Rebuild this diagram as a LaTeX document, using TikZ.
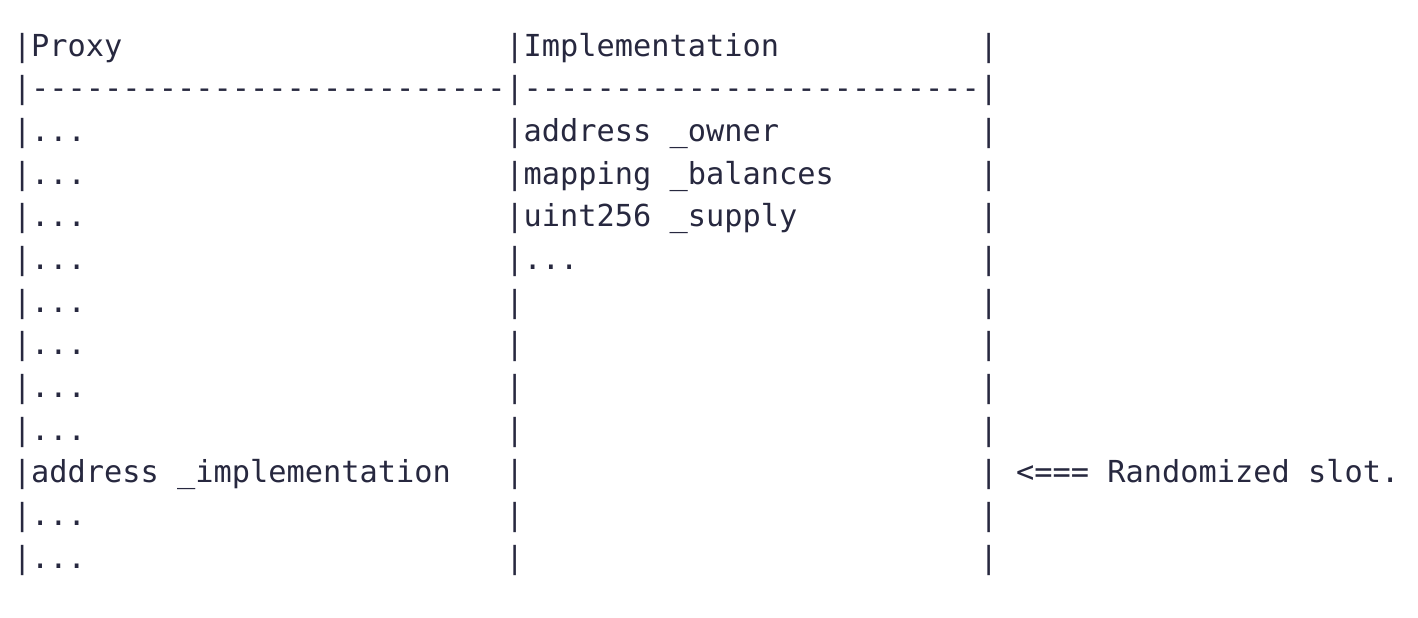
\documentclass[tikz,border=0pt]{standalone}
\usepackage{fontspec}
\setmonofont{DejaVu Sans Mono}
\usepackage{xcolor}
\usetikzlibrary{positioning}
\definecolor{ink}{HTML}{27283F}
\newcommand{\dashrun}[1]{\foreach \k in {1,...,#1}{-}}
\newcommand{\gap}{...}
\tikzset{
  cell/.style={anchor=base west, inner sep=0pt, text=ink, font=\ttfamily\fontsize{15.15}{18}\selectfont},
}

\begin{document}
\begin{tikzpicture}[x=0.5pt, y=-0.5pt]
  \useasboundingbox (0,0) rectangle (1418,617);

  % header and separator
  \node[cell] (proxyhead) at (12.6,56) {|Proxy};
  \node[cell] (implhead) at (505.1,56) {|Implementation};
  \node[cell] (sepproxy) at (12.6,98.67) {|\dashrun{26}};
  \node[cell] (sepimpl) at (505.1,98.67) {|\dashrun{25}};

  % storage slots
  \foreach \i/\ptxt/\itxt in {
    2/\gap/address \_owner,
    3/\gap/mapping \_balances,
    4/\gap/uint256 \_supply,
    5/\gap/\gap,
    6/\gap/,
    7/\gap/,
    8/\gap/,
    9/\gap/,
    10/address \_implementation/,
    11/\gap/,
    12/\gap/}{
    \node[cell] (proxy\i) at (12.6,56+\i*42.67) {|\ptxt};
    \node[cell] (impl\i) at (505.1,56+\i*42.67) {|\itxt};
  }

  % right border
  \foreach \i in {0,...,12}
    \node[cell] (end\i) at (979.3,56+\i*42.67) {|};

  \node[cell] (note) at (1015.8,482.7) {<=== Randomized slot.};
\end{tikzpicture}
\end{document}
